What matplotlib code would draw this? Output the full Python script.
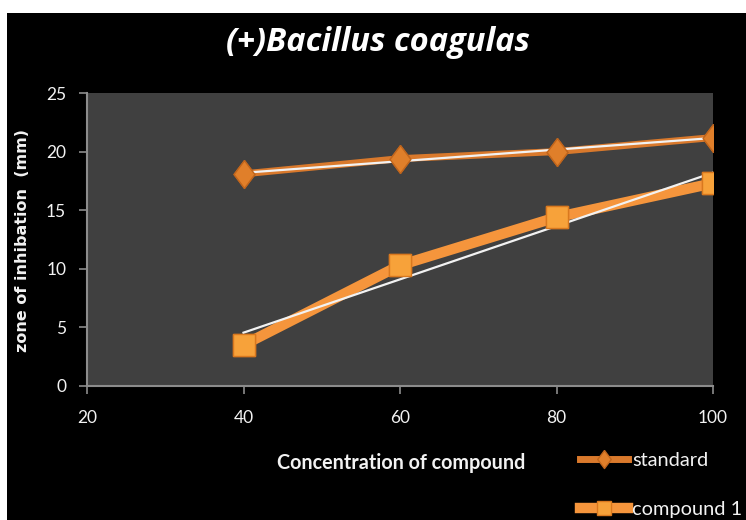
import matplotlib
matplotlib.use("Agg")
import matplotlib.pyplot as plt
import numpy as np
from matplotlib.patches import Rectangle

title = "(+)Bacillus coagulas"
x_label = "Concentration of compound"
y_label = "zone of inhibation  (mm)"
concentration = [40, 60, 80, 100]
standard = [18.1, 19.4, 20.0, 21.2]
compound1 = [3.5, 10.3, 14.4, 17.3]
series_names = ["standard", "compound 1"]
x_ticks = [20, 40, 60, 80, 100]
y_ticks = [0, 5, 10, 15, 20, 25]

plt.rcParams['font.family'] = ['Lato', 'DejaVu Sans']

W, H = 746, 520
fig = plt.figure(figsize=(W / 100, H / 100), dpi=100, facecolor='white')
fig.patches.append(Rectangle((7 / W, 0), 1 - 7 / W, (H - 13) / H,
                             transform=fig.transFigure, facecolor='black',
                             edgecolor='none', zorder=-5))

ax = fig.add_axes([87 / W, (H - 386) / H, (713 - 87) / W, (386 - 93) / H])
ax.set_facecolor('#404040')

c_std = '#D9792C'
c_cmp = '#F5953C'
xs = np.array(concentration, dtype=float)
diamond = [(0, 1), (0.75, 0), (0, -1), (-0.75, 0), (0, 1)]

ax.plot(xs, standard, color=c_std, lw=5, marker=diamond, ms=20,
        mfc='#E07F2A', mec='#C0651C', mew=1, zorder=2, label=series_names[0])
ax.plot(xs, compound1, color=c_cmp, lw=7.5, marker='s', ms=16,
        mfc='#F7A23A', mec='#D9781E', mew=1, zorder=2, label=series_names[1])

for ys in (standard, compound1):
    p = np.polyfit(xs, ys, 1)
    ax.plot(xs, np.polyval(p, xs), color='#F2F2F2', lw=1.6, zorder=3)

ax.plot(xs, standard, ls='none', marker=diamond, ms=20, mfc='#E07F2A',
        mec='#C0651C', mew=1, zorder=4)
ax.plot(xs, compound1, ls='none', marker='s', ms=16, mfc='#F7A23A',
        mec='#D9781E', mew=1, zorder=4)

ax.set_xlim(20, 100)
ax.set_ylim(0, 25)
ax.set_xticks(x_ticks)
ax.set_yticks(y_ticks)
for s in ['top', 'right']:
    ax.spines[s].set_visible(False)
for s in ['left', 'bottom']:
    ax.spines[s].set_color('#8C8C8C')
    ax.spines[s].set_linewidth(1.5)
ax.tick_params(axis='both', colors='#8C8C8C', direction='out', length=6,
               width=1.2, labelcolor='#F2F2F2', labelsize=12.5)
ax.tick_params(axis='x', pad=11)
ax.tick_params(axis='y', pad=9)

fig.text(378 / W, 1 - 51 / H, title, color='white', fontsize=23.5,
         family='Open Sans', fontstyle='italic', fontweight='bold',
         ha='center', va='baseline')
fig.text(23 / W, 1 - 241 / H, y_label, color='#F2F2F2', fontsize=11.5,
         family='DejaVu Sans', fontweight='bold', rotation=90,
         ha='center', va='center')
fig.text(401 / W, 1 - 463 / H, x_label, color='#F2F2F2', fontsize=14.2,
         fontweight='bold', ha='center', va='center')

leg = fig.legend(loc='upper left', bbox_to_anchor=(580 / W, 1 - 452 / H),
                 frameon=False, fontsize=14.4, labelcolor='#F2F2F2',
                 handlelength=2.4, handletextpad=0.2, labelspacing=1.6,
                 borderaxespad=0, borderpad=0, markerscale=0.65)

fig.savefig('out.png', dpi=100, facecolor=fig.get_facecolor())
